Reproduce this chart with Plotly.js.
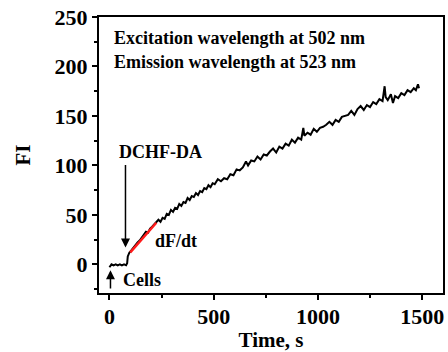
<!DOCTYPE html>
<html>
<head>
<meta charset="utf-8">
<script src="https://cdn.plot.ly/plotly-3.0.1.min.js"></script>
<style>html,body{margin:0;padding:0;background:#fff;}#chart{width:448px;height:352px;}</style>
</head>
<body>
<div id="chart"></div>
<script>
var timeS = [0,5,10,20,30,40,50,60,70,80,85,88,92,96,105,115,125,135,145,155,165,175,185,195,205,215,225,235,245,255,265,275,285,295,305,315,325,335,345,355,365,375,385,395,405,415,425,435,445,455,465,475,485,495,505,520,535,550,565,580,595,610,625,640,655,665,680,695,710,725,740,755,770,785,800,815,830,845,860,875,890,905,920,930,935,950,965,980,995,1010,1025,1040,1055,1070,1085,1100,1115,1130,1145,1160,1175,1190,1205,1220,1235,1250,1265,1280,1295,1310,1320,1325,1335,1350,1360,1370,1385,1400,1415,1430,1445,1460,1470,1480,1485];
var fiValues = [-3,-1,0,-1,0,-1,0,-1,0,-1,1,8,10,12,14,17,20,22,24,27,29,33,32,36,38,40,42,45,43,47,46,51,50,55,53,57,56,61,59,63,62,67,65,69,68,72,70,74,73,77,76,80,78,82,81,86,84,87,86,91,90,96,95,98,104,100,105,104,109,106,111,110,114,117,113,119,117,122,120,126,123,128,126,138,130,133,131,137,134,138,139,141,144,141,146,144,149,150,151,155,151,157,160,156,161,159,164,162,167,165,180,169,166,172,163,170,168,173,171,176,174,178,176,182,178];
var fitTime = [100,225];
var fitValues = [12,42];
var xTickVals = [0,500,1000,1500];
var xTickText = ['0','500','1000','1500'];
var yTickVals = [0,50,100,150,200,250];
var yTickText = ['0','50','100','150','200','250'];

function f(sz){ return {family: 'Times New Roman', size: sz, color: '#000'}; }
function b(s){ return '<b>' + s + '</b>'; }
var traces = [
  {x: timeS, y: fiValues, mode: 'lines', line: {color: '#000', width: 2}, hoverinfo: 'skip'},
  {x: fitTime, y: fitValues, mode: 'lines', line: {color: '#ff1a1a', width: 2.5}, hoverinfo: 'skip'}
];
var layout = {
  width: 448, height: 352,
  margin: {l: 99, r: 5, t: 17, b: 59},
  paper_bgcolor: '#fff', plot_bgcolor: '#fff',
  showlegend: false,
  xaxis: {
    range: [-50, 1600], tickvals: xTickVals, ticktext: xTickText.map(b), ticks: 'outside', ticklen: 5, tickwidth: 2,
    tickcolor: '#000', showline: true, linewidth: 2, linecolor: '#000', mirror: true,
    showgrid: false, zeroline: false, tickfont: f(22), ticklabelstandoff: -2,
    minor: {tickvals: [250,750,1250], ticks: 'outside', ticklen: 3, tickwidth: 2, tickcolor: '#000', showgrid: false},
    title: {text: b('Time, s'), font: f(21), standoff: 0}
  },
  yaxis: {
    range: [-29, 250], tickvals: yTickVals, ticktext: yTickText.map(b), ticks: 'outside', ticklen: 5, tickwidth: 2,
    tickcolor: '#000', showline: true, linewidth: 2, linecolor: '#000', mirror: true,
    showgrid: false, zeroline: false, tickfont: f(22),
    minor: {tickvals: [-25,25,75,125,175,225], ticks: 'outside', ticklen: 3, tickwidth: 2, tickcolor: '#000', showgrid: false},
    title: {text: b('FI'), font: f(21), standoff: 18}
  },
  annotations: [
    {xref: 'paper', yref: 'paper', x: 0.037, y: 0.924, xanchor: 'left', yanchor: 'middle', showarrow: false,
     text: b('Excitation wavelength at 502 nm'), font: f(18)},
    {xref: 'paper', yref: 'paper', x: 0.037, y: 0.837, xanchor: 'left', yanchor: 'middle', showarrow: false,
     text: b('Emission wavelength at 523 nm'), font: f(18)},
    {xref: 'x', yref: 'y', x: 245, y: 114, showarrow: false, text: b('DCHF-DA'), font: f(18)},
    {xref: 'x', yref: 'y', x: 77, y: 17, axref: 'x', ayref: 'y', ax: 77, ay: 102, text: '',
     showarrow: true, arrowhead: 2, arrowsize: 1.2, arrowwidth: 1.5, arrowcolor: '#000'},
    {xref: 'x', yref: 'y', x: 317, y: 24, showarrow: false, text: b('dF/dt'), font: f(18)},
    {xref: 'x', yref: 'y', x: 5, y: -6, axref: 'x', ayref: 'y', ax: 5, ay: -26, text: '',
     showarrow: true, arrowhead: 2, arrowsize: 1.2, arrowwidth: 1.5, arrowcolor: '#000'},
    {xref: 'x', yref: 'y', x: 158, y: -16, showarrow: false, text: b('Cells'), font: f(18)}
  ]
};
Plotly.newPlot('chart', traces, layout, {displayModeBar: false, staticPlot: true});
</script>
</body>
</html>
